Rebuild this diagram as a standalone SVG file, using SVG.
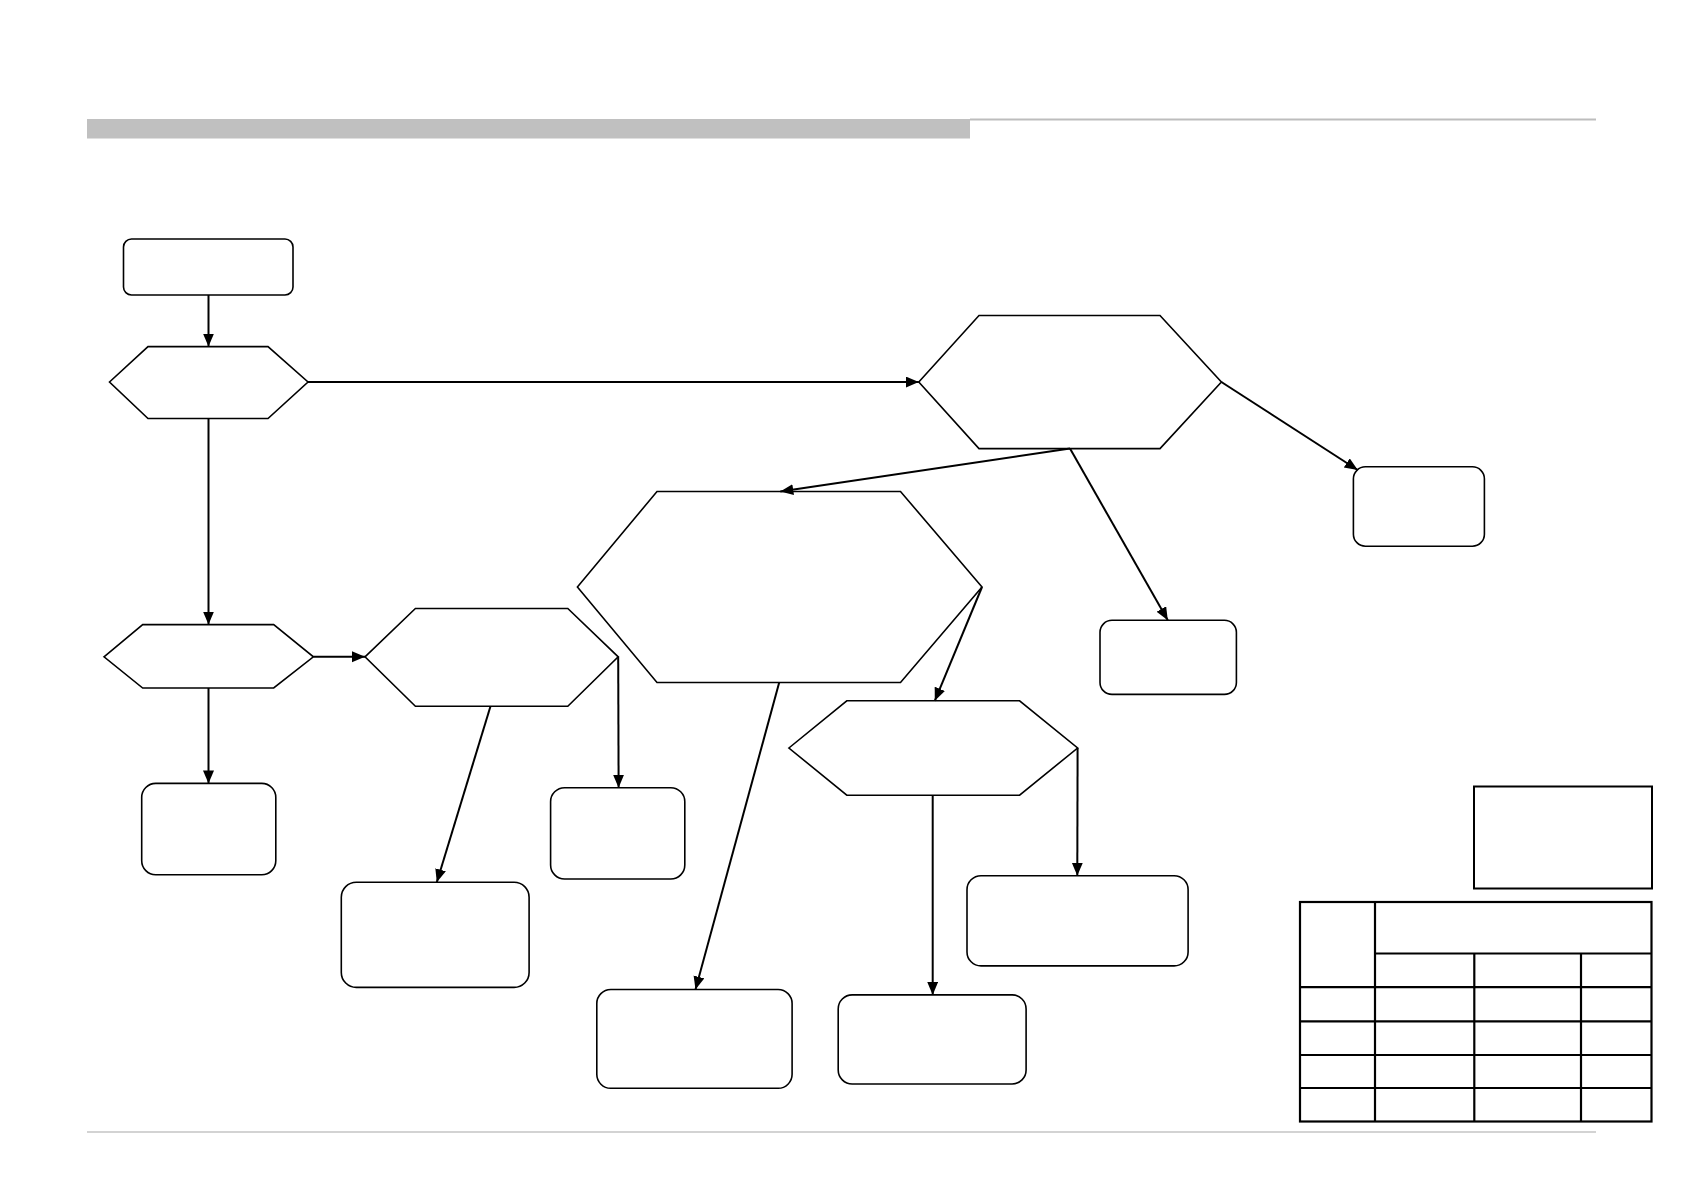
<svg xmlns="http://www.w3.org/2000/svg" width="1683" height="1191" viewBox="0 0 1683 1191">
<style>
.n{fill:#fff;stroke:#000;stroke-width:1.6}
.c{fill:none;stroke:#000;stroke-width:2}
.t{fill:none;stroke:#000;stroke-width:2.2}
</style>
<defs>
<marker id="ah" markerUnits="userSpaceOnUse" markerWidth="15" markerHeight="12" refX="13" refY="5.5" orient="auto">
<path d="M0,0 L13,5.5 L0,11 z" fill="#000"/>
</marker>
</defs>
<rect width="1683" height="1191" fill="#fff"/>
<g transform="translate(0,1)">
<g id="header">
<rect x="87" y="118" width="883" height="19.5" fill="#c0c0c0"/>
<line x1="970" y1="118.5" x2="1596" y2="118.5" stroke="#bdbdbd" stroke-width="2"/>
<line x1="87" y1="1131" x2="1596" y2="1131" stroke="#c4c4c4" stroke-width="1.5"/>
</g>
<g id="start"><rect class="n" x="123.5" y="238" width="169.5" height="56" rx="8"/></g>
<g id="dec1"><polygon class="n" points="109.5,381 148,345.6 268,345.6 308,381 268,417.5 148,417.5"/></g>
<g id="dec2"><polygon class="n" points="918.8,381 979,314.5 1160,314.5 1221.4,381 1160,447.6 979,447.6"/></g>
<g id="boxB"><rect class="n" x="1353.4" y="465.8" width="131" height="79.4" rx="12"/></g>
<g id="dec3"><polygon class="n" points="577.4,586 657,490.5 900.5,490.5 982,586 900.5,681.5 657,681.5"/></g>
<g id="boxC"><rect class="n" x="1100" y="619.3" width="136.4" height="74.1" rx="12"/></g>
<g id="dec4"><polygon class="n" points="104,655.8 142.7,623.6 273.7,623.6 313.4,655.8 273.7,687 142.7,687"/></g>
<g id="dec5"><polygon class="n" points="365,655.8 415.4,607.5 567.8,607.5 618.2,655.8 567.8,705.2 415.4,705.2"/></g>
<g id="boxD"><rect class="n" x="141.7" y="782.4" width="134.1" height="91.3" rx="14"/></g>
<g id="boxE"><rect class="n" x="550.6" y="786.7" width="134.2" height="91.3" rx="14"/></g>
<g id="boxF"><rect class="n" x="341.3" y="881.2" width="187.8" height="105.2" rx="15"/></g>
<g id="dec6"><polygon class="n" points="788.9,747 846.8,699.8 1019.6,699.8 1077.6,747 1019.6,794.2 846.8,794.2"/></g>
<g id="boxG"><rect class="n" x="967" y="874.7" width="221.1" height="90.2" rx="14"/></g>
<g id="boxH"><rect class="n" x="596.8" y="988.5" width="195.3" height="98.8" rx="14"/></g>
<g id="boxI"><rect class="n" x="838.2" y="993.9" width="187.9" height="89.1" rx="14"/></g>
<g id="legend"><rect x="1474" y="785.5" width="178" height="102" fill="#fff" stroke="#000" stroke-width="2"/></g>
<g id="table">
<rect class="t" x="1300" y="901" width="351.5" height="219.5" fill="#fff"/>
<line class="t" x1="1375" y1="901" x2="1375" y2="1120.5"/>
<line class="t" x1="1375" y1="952.5" x2="1651.5" y2="952.5"/>
<line class="t" x1="1474.3" y1="952.5" x2="1474.3" y2="1120.5"/>
<line class="t" x1="1581" y1="952.5" x2="1581" y2="1120.5"/>
<line class="t" x1="1300" y1="986.2" x2="1651.5" y2="986.2"/>
<line class="t" x1="1300" y1="1020.3" x2="1651.5" y2="1020.3"/>
<line class="t" x1="1300" y1="1054" x2="1651.5" y2="1054"/>
<line class="t" x1="1300" y1="1087" x2="1651.5" y2="1087"/>
</g>
<g id="connectors">
<line class="c" x1="208.5" y1="294" x2="208.5" y2="345.6" marker-end="url(#ah)"/>
<line class="c" x1="308" y1="381" x2="918.8" y2="381" marker-end="url(#ah)"/>
<line class="c" x1="208.5" y1="417.5" x2="208.5" y2="623.6" marker-end="url(#ah)"/>
<line class="c" x1="313.4" y1="655.8" x2="365" y2="655.8" marker-end="url(#ah)"/>
<line class="c" x1="208.5" y1="687" x2="208.5" y2="782.4" marker-end="url(#ah)"/>
<line class="c" x1="490.5" y1="705.2" x2="436.8" y2="881.2" marker-end="url(#ah)"/>
<line class="c" x1="618.2" y1="655.8" x2="618.6" y2="786.7" marker-end="url(#ah)"/>
<line class="c" x1="1070" y1="447.6" x2="780.3" y2="490.5" marker-end="url(#ah)"/>
<line class="c" x1="1070" y1="447.6" x2="1167.8" y2="619.3" marker-end="url(#ah)"/>
<line class="c" x1="1221.4" y1="381" x2="1357.7" y2="469" marker-end="url(#ah)"/>
<line class="c" x1="982" y1="586" x2="934.8" y2="699.8" marker-end="url(#ah)"/>
<line class="c" x1="779.2" y1="681.5" x2="695.5" y2="988.5" marker-end="url(#ah)"/>
<line class="c" x1="932.7" y1="794.2" x2="932.7" y2="993.9" marker-end="url(#ah)"/>
<line class="c" x1="1077.6" y1="747" x2="1077.3" y2="874.7" marker-end="url(#ah)"/>
</g>
</g>
</svg>
